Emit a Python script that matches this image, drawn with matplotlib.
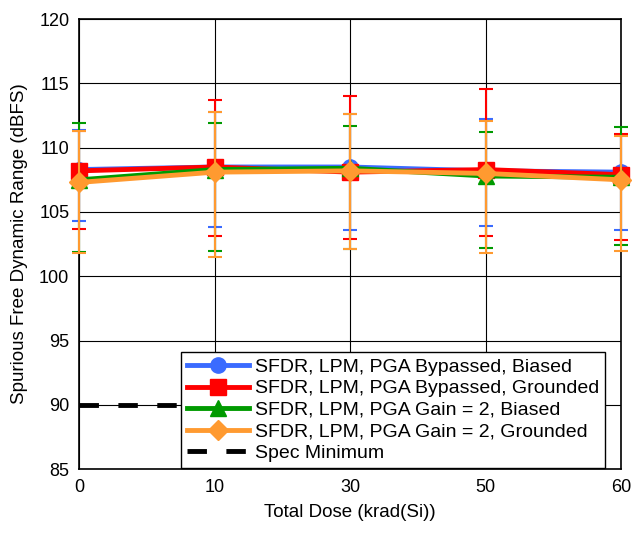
import matplotlib
matplotlib.use("Agg")
import matplotlib.pyplot as plt
from matplotlib.lines import Line2D
import numpy as np

plt.rcParams['font.family'] = ['Liberation Sans', 'DejaVu Sans']

doses = ["0", "10", "30", "50", "60"]

labels = ["SFDR, LPM, PGA Bypassed, Biased",
          "SFDR, LPM, PGA Bypassed, Grounded",
          "SFDR, LPM, PGA Gain = 2, Biased",
          "SFDR, LPM, PGA Gain = 2, Grounded"]
spec_label = "Spec Minimum"

mean_bb = [108.3, 108.5, 108.5, 108.2, 108.1]
mean_bg = [108.2, 108.5, 108.1, 108.3, 107.9]
mean_gb = [107.5, 108.3, 108.4, 107.8, 107.7]
mean_gg = [107.3, 108.1, 108.2, 108.0, 107.5]

hi_bb = [111.4, 112.8, 112.6, 112.2, 111.0]
hi_bg = [111.3, 113.7, 114.0, 114.6, 111.1]
hi_gb = [111.9, 111.9, 111.7, 111.2, 111.6]
hi_gg = [111.3, 112.8, 112.6, 112.1, 110.9]

lo_bb = [104.3, 103.8, 103.6, 103.9, 103.6]
lo_bg = [103.7, 103.1, 102.9, 103.1, 102.8]
lo_gb = [101.9, 102.0, 102.1, 102.2, 102.4]
lo_gg = [101.8, 101.5, 102.1, 101.8, 102.0]

spec_min = 90

colors = ["#3A6BFF", "#FF0000", "#009A00", "#FF9A30"]
markers = ["o", "s", "^", "D"]
msizes = [11, 11, 11, 10]
FS = 13

fig = plt.figure(figsize=(6.32, 5.33), dpi=100)
ax = fig.add_axes([0.125, 0.12, 0.858, 0.844])

x = np.arange(len(doses))
series = [(mean_bb, hi_bb, lo_bb), (mean_bg, hi_bg, lo_bg),
          (mean_gb, hi_gb, lo_gb), (mean_gg, hi_gg, lo_gg)]

handles = []
for i, ((m, h, l), c, mk, ms, lab) in enumerate(zip(series, colors, markers, msizes, labels)):
    m = np.array(m); h = np.array(h); l = np.array(l)
    eb = ax.errorbar(x, m, yerr=[m - l, h - m], color=c, ecolor=c, elinewidth=1.5,
                     capsize=5, capthick=1.5, lw=3.5, marker=mk, markersize=ms,
                     zorder=3 + i)
    for art in [eb[0], *eb[1], *eb[2]]:
        art.set_clip_on(False)
    handles.append(Line2D([], [], color=c, lw=3.5, marker=mk, markersize=ms, label=lab))

spec_line, = ax.plot(x, [spec_min] * len(x), color="black", lw=3.5, ls=(0, (4, 4)),
                     zorder=2, clip_on=False)
handles.append(Line2D([], [], color="black", lw=3.5, ls=(0, (4, 4)), label=spec_label))

ax.set_xlim(0, len(doses) - 1)
ax.set_ylim(85, 120)
ax.set_yticks(np.arange(85, 121, 5))
ax.set_xticks(x)
ax.set_xticklabels(doses)
ax.grid(True, color="black", lw=0.8)
ax.set_axisbelow(True)
ax.tick_params(labelsize=FS, length=0, pad=7)
for s in ax.spines.values():
    s.set_color("black")
    s.set_linewidth(1.2)

ax.set_xlabel("Total Dose (krad(Si))", fontsize=13.5, labelpad=6)
ax.set_ylabel("Spurious Free Dynamic Range (dBFS)", fontsize=13.5, labelpad=8)

leg = ax.legend(handles=handles, loc="lower right", fontsize=14, frameon=True, fancybox=False,
                edgecolor="black", framealpha=1, borderpad=0.3, labelspacing=0.2,
                handlelength=3.2, handletextpad=0.3, borderaxespad=0.0,
                bbox_to_anchor=(0.97, 0.003))
leg.get_frame().set_linewidth(1.0)
leg.set_zorder(20)

fig.savefig("out.png", dpi=100)
